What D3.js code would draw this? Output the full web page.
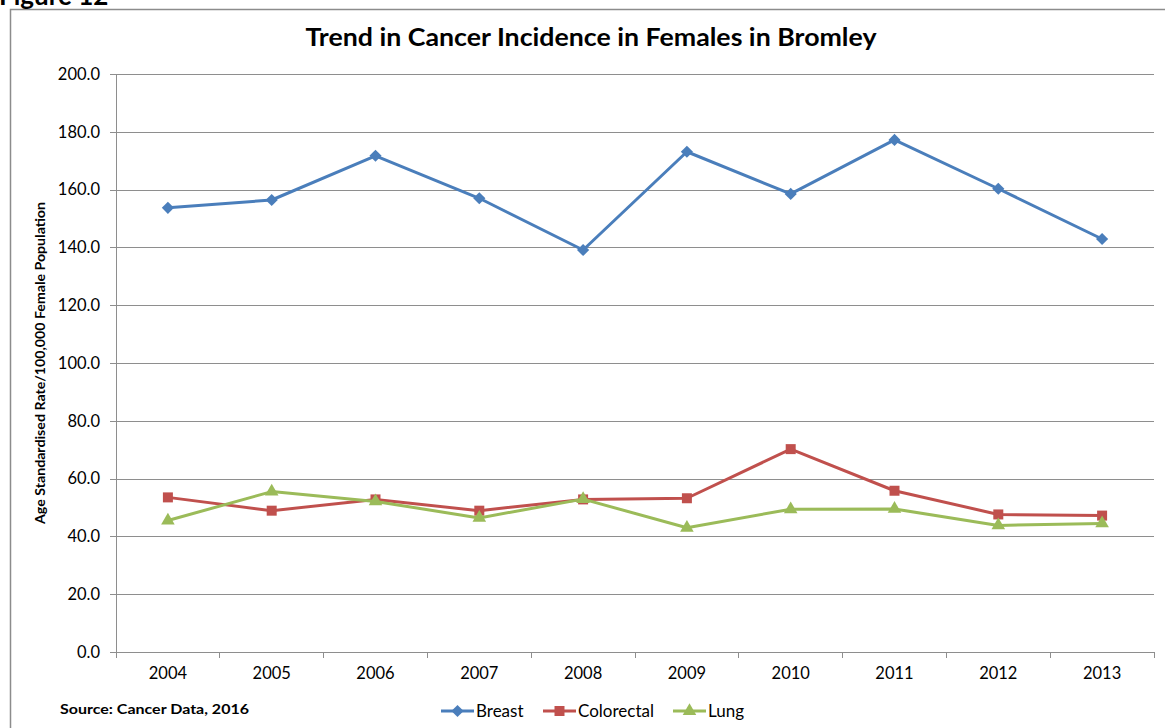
<!DOCTYPE html>
<html lang="en">
<head>
    <meta charset="UTF-8">
    <title>Trend in Cancer Incidence in Females in Bromley</title>
    <script src="https://cdn.jsdelivr.net/npm/d3@7"></script>
    <style>
        body { margin: 0; background: #fff; }
        svg { display: block; font-family: Lato, "Open Sans", sans-serif; }
    </style>
</head>
<body>
    <div id="container"></div>

    <script>
        // data
        const years = ["2004", "2005", "2006", "2007", "2008", "2009", "2010", "2011", "2012", "2013"]
        const breast = [153.7, 156.4, 171.7, 157.0, 139.1, 173.1, 158.5, 177.2, 160.3, 142.9]
        const colorectal = [53.5, 48.9, 52.8, 48.9, 52.8, 53.2, 70.2, 55.8, 47.6, 47.2]
        const lung = [45.5, 55.5, 52.1, 46.4, 52.9, 43.0, 49.4, 49.5, 43.8, 44.5]
        const yTicks = [0, 20, 40, 60, 80, 100, 120, 140, 160, 180, 200]

        const series = [
            { name: "Breast", values: breast, color: "#4a7ebb", shape: "diamond" },
            { name: "Colorectal", values: colorectal, color: "#c0504d", shape: "square" },
            { name: "Lung", values: lung, color: "#9bbb59", shape: "triangle" }
        ]

        const w = 1165, h = 728
        // plot area edges (avoid "top", it clashes with window.top)
        const pL = 116, pR = 1154, pT = 74, pB = 652
        const gridCol = "#8e8e8e"

        const svg = d3.select("#container").append("svg").attr("width", w).attr("height", h)

        // outer chart frame, runs off the page right & bottom
        svg.append("rect").attr("x", 10.5).attr("y", 9.5).attr("width", 1200).attr("height", 800)
            .attr("fill", "none").attr("stroke", "#8c8c8c").attr("stroke-width", 1.5)

        // figure label, mostly cut off at the top (as in the source page)
        svg.append("text").attr("x", -1).attr("y", 5).attr("font-size", 26).attr("font-weight", "bold")
            .text("Figure 12")

        svg.append("text").attr("x", 591).attr("y", 46).attr("text-anchor", "middle")
            .attr("font-size", 24).attr("font-weight", "bold")
            .attr("textLength", 571).attr("lengthAdjust", "spacingAndGlyphs")
            .text("Trend in Cancer Incidence in Females in Bromley")

        const x = d3.scaleBand().domain(years).range([pL, pR])
        const y = d3.scaleLinear().domain([0, 200]).range([pB, pT])
        const cx = d => x(d) + x.bandwidth() / 2

        // gridlines
        svg.append("g").attr("transform", `translate(${pL},0)`)
            .call(d3.axisLeft(y).tickValues(yTicks.slice(1)).tickSize(-(pR - pL)).tickFormat(""))
            .call(g => g.select(".domain").remove())
            .selectAll("line").attr("stroke", gridCol).attr("shape-rendering", "crispEdges")

        // y axis
        const yAx = svg.append("g").attr("transform", `translate(${pL},0)`)
            .call(d3.axisLeft(y).tickValues(yTicks).tickSize(6).tickPadding(10).tickFormat(d3.format(".1f")))
        yAx.select(".domain").attr("stroke", gridCol).attr("d", `M0,${pT}V${pB}`).attr("shape-rendering", "crispEdges")
        yAx.selectAll("line").attr("stroke", gridCol).attr("shape-rendering", "crispEdges")
        yAx.selectAll("text").attr("font-size", 16.5).attr("font-family", "Lato, sans-serif").attr("fill", "#000")

        // x axis: labels centered, ticks on category boundaries
        const xAx = svg.append("g").attr("transform", `translate(0,${pB})`)
            .call(d3.axisBottom(x).tickSize(0).tickPadding(15))
        xAx.select(".domain").attr("stroke", gridCol).attr("d", `M${pL},0H${pR}`).attr("shape-rendering", "crispEdges")
        xAx.selectAll("text").attr("font-size", 16.5).attr("font-family", "Lato, sans-serif").attr("fill", "#000")
        xAx.selectAll(".edge").data(years.map(d => x(d)).concat([pR])).enter().append("line")
            .attr("class", "edge")
            .attr("x1", d => d).attr("x2", d => d).attr("y1", 0).attr("y2", 6)
            .attr("stroke", gridCol).attr("shape-rendering", "crispEdges")

        // y axis title
        svg.append("text").attr("transform", `translate(45,${(pT + pB) / 2}) rotate(-90)`)
            .attr("text-anchor", "middle").attr("font-size", 12.5).attr("font-weight", "bold")
            .attr("textLength", 322).attr("lengthAdjust", "spacingAndGlyphs")
            .text("Age Standardised Rate/100,000 Female Population")

        const sym = {
            diamond: d3.symbol().type(d3.symbolSquare).size(74),
            square: d3.symbol().type(d3.symbolSquare).size(100),
            triangle: d3.symbol().type(d3.symbolTriangle).size(80)
        }

        const line = d3.line().x((d, i) => cx(years[i])).y(d => y(d))

        series.forEach(s => {
            svg.append("path").datum(s.values).attr("d", line)
                .attr("fill", "none").attr("stroke", s.color).attr("stroke-width", 3).attr("stroke-linejoin", "round")
            svg.selectAll(".m-" + s.shape).data(s.values).enter().append("path")
                .attr("class", "m-" + s.shape)
                .attr("d", sym[s.shape]())
                .attr("transform", (d, i) => `translate(${cx(years[i])},${y(d)})` + (s.shape == "diamond" ? " rotate(45)" : ""))
                .attr("fill", s.color)
        })

        // source note
        svg.append("text").attr("x", 60).attr("y", 714).attr("font-size", 13).attr("font-weight", "bold")
            .attr("textLength", 189).attr("lengthAdjust", "spacingAndGlyphs")
            .text("Source: Cancer Data, 2016")

        // legend
        const legX = [441, 543, 673]
        const leg = svg.selectAll(".leg").data(series).enter().append("g")
            .attr("class", "leg").attr("transform", (d, i) => `translate(${legX[i]},711)`)
        leg.append("line").attr("x1", 0).attr("x2", 33).attr("stroke", d => d.color).attr("stroke-width", 3)
        leg.append("path").attr("d", d => sym[d.shape]())
            .attr("transform", d => "translate(16.5,0)" + (d.shape == "diamond" ? " rotate(45)" : ""))
            .attr("fill", d => d.color)
        leg.append("text").attr("x", 35).attr("y", 6).attr("font-size", 17).text(d => d.name)
    </script>
</body>
</html>
